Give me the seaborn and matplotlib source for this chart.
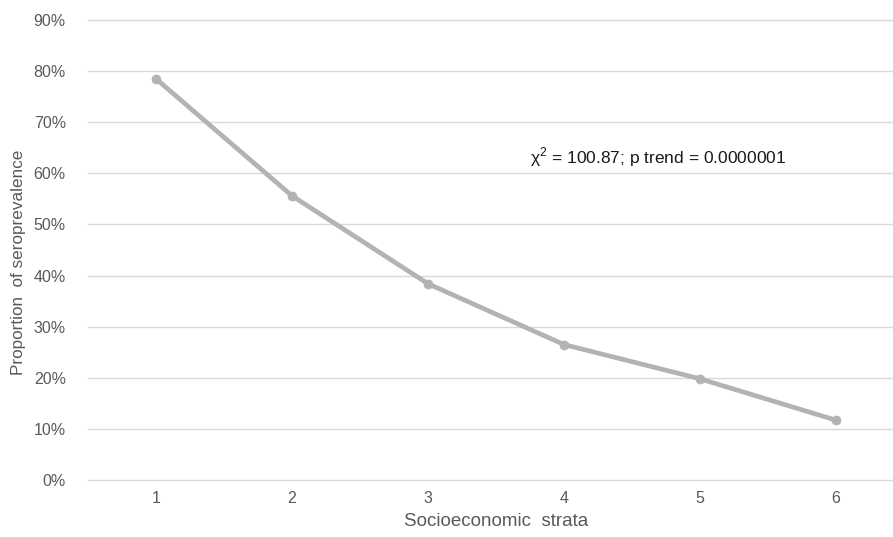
import matplotlib
matplotlib.use("Agg")
import matplotlib.pyplot as plt
import seaborn as sns
import pandas as pd
from matplotlib.ticker import PercentFormatter

strata = [1, 2, 3, 4, 5, 6]
seroprevalence = [0.785, 0.556, 0.384, 0.265, 0.198, 0.117]
y_ticks = [0.0, 0.1, 0.2, 0.3, 0.4, 0.5, 0.6, 0.7, 0.8, 0.9]
annotation = "χ$^2$ = 100.87; p trend = 0.0000001"

sns.set_theme(style="white")
plt.rcParams['font.family'] = ['Liberation Sans', 'DejaVu Sans']
plt.rcParams['mathtext.fontset'] = 'custom'
plt.rcParams['mathtext.rm'] = 'Liberation Sans'

df = pd.DataFrame({"strata": strata, "sero": seroprevalence})

W, H = 893, 537
fig = plt.figure(figsize=(W / 100, H / 100), dpi=100)
left, right, top, bottom = 88, 904, 20, 480
ax = fig.add_axes([left / W, (H - bottom) / H, (right - left) / W, (bottom - top) / H])

sns.lineplot(data=df, x="strata", y="sero", ax=ax, color="#b3b3b3", linewidth=3.4,
             marker="o", markersize=7, markeredgewidth=0, zorder=3)

ax.set_xlim(0.5, 6.5)
ax.set_ylim(0, 0.9)
ax.set_yticks(y_ticks)
ax.yaxis.set_major_formatter(PercentFormatter(1.0, decimals=0))
ax.set_xticks(strata)
ax.grid(axis="y", color="#d9d9d9", linewidth=1)
for gl in ax.get_ygridlines():
    gl.set_clip_on(False)
ax.set_axisbelow(True)
for s in ax.spines.values():
    s.set_visible(False)
ax.tick_params(axis="both", length=0, colors="#595959", labelsize=11.5)
ax.tick_params(axis="y", pad=16)
ax.tick_params(axis="x", pad=8)
ax.set_xlabel("Socioeconomic  strata", color="#595959", fontsize=13.5, labelpad=5)
ax.set_ylabel("Proportion  of seroprevalence", color="#595959", fontsize=12.3)
ax.yaxis.set_label_coords(-0.076, 0.474)

ax.text(4.69, 0.632, annotation, ha="center", va="center", fontsize=12.5, color="#1a1a1a")

fig.savefig("out.png", dpi=100)
